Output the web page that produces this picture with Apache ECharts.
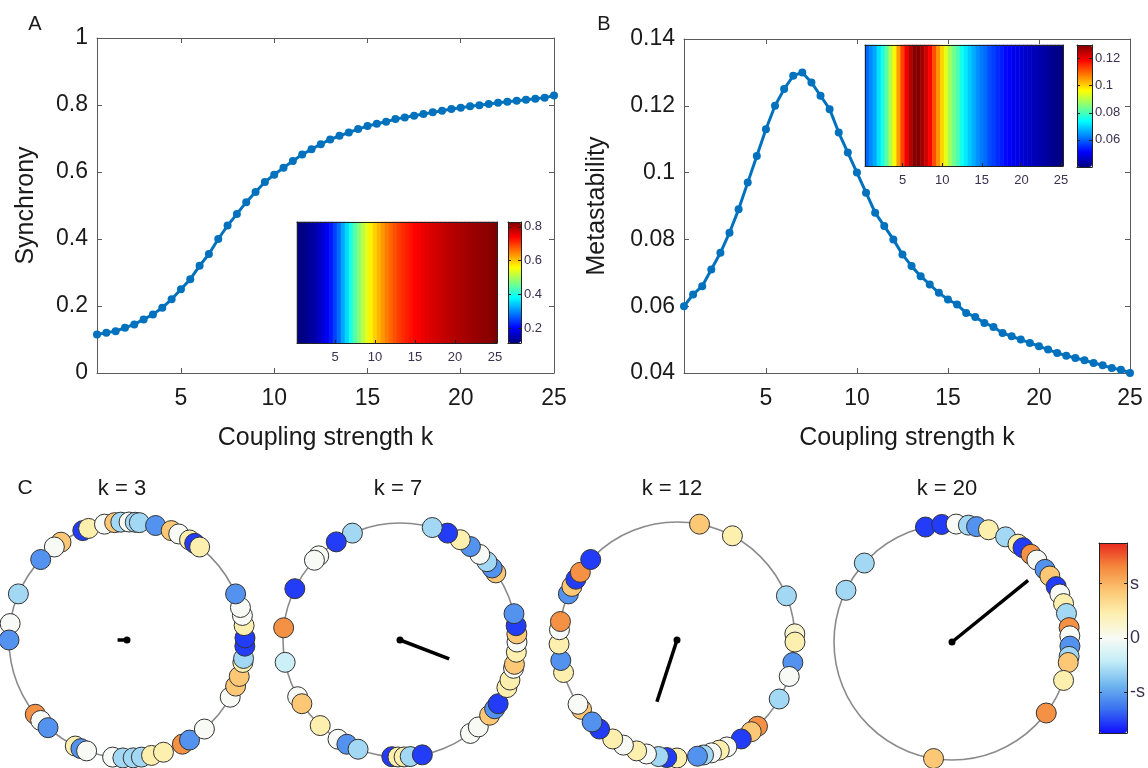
<!DOCTYPE html>
<html><head><meta charset="utf-8">
<script src="https://cdn.jsdelivr.net/npm/echarts@6/dist/echarts.min.js"></script>
<style>html,body{margin:0;padding:0;background:#fff}#c{width:1148px;height:768px}</style>
</head><body><div id="c"></div>
<script>
// ---------------- data ----------------
const kValues = [0.5,1,1.5,2,2.5,3,3.5,4,4.5,5,5.5,6,6.5,7,7.5,8,8.5,9,9.5,10,
  10.5,11,11.5,12,12.5,13,13.5,14,14.5,15,15.5,16,16.5,17,17.5,18,18.5,19,19.5,20,
  20.5,21,21.5,22,22.5,23,23.5,24,24.5,25];
const synchrony = [0.115,0.12,0.125,0.135,0.145,0.16,0.175,0.195,0.22,0.25,
  0.28,0.32,0.355,0.40,0.44,0.475,0.51,0.54,0.57,0.592,
  0.613,0.633,0.652,0.668,0.683,0.697,0.708,0.718,0.728,0.737,
  0.744,0.75,0.758,0.763,0.768,0.773,0.778,0.783,0.788,0.792,
  0.796,0.799,0.803,0.807,0.81,0.813,0.816,0.819,0.822,0.828];
const metastability = [0.060,0.0635,0.066,0.071,0.076,0.082,0.089,0.097,0.105,0.113,
  0.120,0.125,0.129,0.130,0.127,0.123,0.119,0.112,0.106,0.100,
  0.094,0.088,0.084,0.080,0.0755,0.072,0.069,0.0665,0.064,0.062,
  0.0605,0.058,0.0568,0.055,0.0538,0.052,0.051,0.050,0.049,0.048,
  0.047,0.046,0.0452,0.0445,0.0438,0.043,0.0423,0.0415,0.041,0.040];
const mainXTicks = [5,10,15,20,25];
const insetXTicks = [5,10,15,20,25];
const syncBarTicks = [0.2,0.4,0.6,0.8];
const metaBarTicks = [0.06,0.08,0.1,0.12];
const phaseBarTicks = [-1,0,1];
const phaseBarLabels = ['-s','0','s'];
const snapshotK = [3,7,12,20];
// node phase colour levels
const B=-1.55, M=-1.1, L=-0.6, W=0, Y=0.45, O=0.85, R=1.25;
const k3Angles = [112,109,101,96,93,89,86,84,76,68,64,58,55,52,124,128,137,157,172,180,219,223,228,244,247,250,263,268,273,277,282,288,298,302,311,331,337,342,349,351,357,1,7,12,16,23];
const k3Values = [B,Y,W,O,L,W,L,L,M,O,W,Y,B,Y,O,W,M,L,W,M,R,W,M,Y,M,W,W,L,L,L,Y,Y,R,M,W,W,O,O,Y,L,B,B,Y,W,W,M];
const k7Angles = [114,123,134,137,154,174,191,209,213,227,238,243,249,266,269,272,275,281,307,312,320,324,327,336,340,346,348,354,359,3,7,13,35,38,42,47,53,59,66,74];
const k7Values = [L,B,W,W,B,R,-0.35,W,O,Y,W,M,L,B,Y,Y,L,B,W,W,O,M,B,Y,Y,W,O,Y,W,O,B,M,O,M,L,W,M,Y,B,L];
const k12Angles = [79,62,22,3,359,349,342,330,313,309,303,295,291,287,283,280,270,265,261,255,250,243,237,216,213,229,224,196,190,182,175,171,157,153,149,145,137];
const k12Values = [O,Y,L,0.25,Y,M,W,L,R,O,B,W,Y,W,L,M,Y,B,L,W,Y,W,Y,O,W,B,M,Y,M,Y,W,R,M,O,B,R,B];
const k20Angles = [103,95,88,82,78,72,63,56,53,48,44,38,34,28,24,19,14,7,3,358,353,350,341,323,261,138,154];
const k20Values = [B,B,W,L,M,Y,L,Y,B,R,W,M,O,B,W,Y,L,R,W,M,L,O,Y,R,O,L,L];
const orderR = [0.08,0.45,0.55,0.83];
const orderAngle = [180,339,252,39];

// ---------------- styles ----------------
const FONT = '"Liberation Sans", Arial, Helvetica, sans-serif';
const AX = '#5a5a5a';
const TXT = '#1a1a1a';
const BLUE = '#0072BD';
const jet = ['#000080','#0000ff','#0080ff','#00ffff','#80ff80','#ffff00','#ff8000','#ff0000','#800000'];
const phaseColors = ['#1010ff','#3a70f0','#6db5ee','#c2ecf7','#f8fbf5','#fdf0b0','#fcc672','#f4883c','#e8281e'];

const kLabels = kValues.map(String);
const insetTickFn = (i, v) => insetXTicks.includes(Number(v));
const minS = Math.min(...synchrony), maxS = Math.max(...synchrony);
const minM = Math.min(...metastability), maxM = Math.max(...metastability);

function mainX(grid, pos, withLabels) {
  return {gridIndex:grid, type:'value', min:0.5, max:25, position:pos,
    axisLine:{show:true,onZero:false,lineStyle:{color:AX,width:1}},
    axisTick:{show:true,inside:true,length:5,customValues:mainXTicks,lineStyle:{color:AX}},
    axisLabel:{show:withLabels,customValues:mainXTicks,fontSize:23,color:TXT,margin:14,fontFamily:FONT},
    splitLine:{show:false},
    name: withLabels ? 'Coupling strength k' : '', nameLocation:'middle', nameGap:53,
    nameTextStyle:{fontSize:25,color:TXT,fontFamily:FONT}};
}
function mainY(grid, pos, min, max, interval, name, gap, withLabels) {
  return {gridIndex:grid, type:'value', min:min, max:max, interval:interval, position:pos,
    axisLine:{show:true,onZero:false,lineStyle:{color:AX,width:1}},
    axisTick:{show:true,inside:true,length:5,lineStyle:{color:AX}},
    axisLabel:{show:withLabels,fontSize:23,color:TXT,margin:9,fontFamily:FONT},
    splitLine:{show:false},
    name: withLabels ? name : '', nameLocation:'middle', nameGap:gap,
    nameTextStyle:{fontSize:25,color:TXT,fontFamily:FONT}};
}
function insetX(grid, pos, withLabels) {
  return {gridIndex:grid, type:'category', data:kLabels, position:pos, z:6,
    axisLine:{show:true,lineStyle:{color:'#222',width:1}},
    axisTick:{show:withLabels,inside:true,length:3,interval:insetTickFn,alignWithLabel:true,lineStyle:{color:'#222'}},
    axisLabel:{show:withLabels,interval:insetTickFn,fontSize:13,color:'#3a3050',margin:8,fontFamily:FONT},
    splitLine:{show:false}};
}
function insetY(grid, pos) {
  return {gridIndex:grid, type:'category', data:[''], position:pos, z:6,
    axisLine:{show:true,lineStyle:{color:'#222',width:1}},
    axisTick:{show:false}, axisLabel:{show:false}, splitLine:{show:false}};
}
function barX(grid, pos) {
  return {gridIndex:grid, type:'value', min:0, max:1, position:pos, z:6,
    axisLine:{show:true,onZero:false,lineStyle:{color:'#222',width:1}},
    axisTick:{show:false}, axisLabel:{show:false}, splitLine:{show:false}};
}
function barY(grid, pos, min, max, ticks, fmt, fs) {
  return {gridIndex:grid, type:'value', min:min, max:max, position:pos, z:6,
    axisLine:{show:true,onZero:false,lineStyle:{color:'#222',width:1}},
    axisTick:{show:true,inside:true,length:3,customValues:ticks,lineStyle:{color:'#222'}},
    axisLabel:{show:pos==='right',customValues:ticks,fontSize:fs,color:'#3a3050',margin:3,fontFamily:FONT,formatter:fmt},
    splitLine:{show:false}};
}

const snapAngles = [k3Angles,k7Angles,k12Angles,k20Angles];
const snapValues = [k3Values,k7Values,k12Values,k20Values];
const polarCenters = [[127,640],[400,640],[677,640],[952,642]];
const polarRadius = [118,117,118,118];

const series = [
  {type:'line', xAxisIndex:0, yAxisIndex:0, data:kValues.map((k,i)=>[k,synchrony[i]]),
   symbol:'circle', symbolSize:8, itemStyle:{color:BLUE}, lineStyle:{color:BLUE,width:3}, z:3},
  {type:'line', xAxisIndex:2, yAxisIndex:2, data:kValues.map((k,i)=>[k,metastability[i]]),
   symbol:'circle', symbolSize:8, itemStyle:{color:BLUE}, lineStyle:{color:BLUE,width:3}, z:3},
  {type:'heatmap', xAxisIndex:4, yAxisIndex:4, data:synchrony.map((v,i)=>[i,0,v]), z:4},
  {type:'heatmap', xAxisIndex:8, yAxisIndex:8, data:metastability.map((v,i)=>[i,0,v]), z:4}
];
for (let p=0;p<4;p++) {
  series.push({type:'scatter', coordinateSystem:'polar', polarIndex:p,
    data:snapAngles[p].map((a,i)=>[1,a,snapValues[p][i]]),
    symbol:'circle', symbolSize:20, itemStyle:{borderColor:'#333',borderWidth:1,opacity:1}, z:4});
}
for (let p=0;p<4;p++) {
  series.push({type:'line', coordinateSystem:'polar', polarIndex:p,
    data:[{value:[0,orderAngle[p]],symbolSize:7},{value:[orderR[p],orderAngle[p]],symbolSize:0}],
    symbol:'circle', itemStyle:{color:'#000'}, lineStyle:{color:'#000',width:3.5}, z:5});
}

const graphicTexts = [
  {t:'A', x:35, y:24, fs:20}, {t:'B', x:604, y:24, fs:20}, {t:'C', x:25, y:488, fs:21}
];
snapshotK.forEach((k,i)=>graphicTexts.push({t:'k = '+k, x:[122,398,672,947][i], y:489, fs:22}));

const option = {
  animation:false,
  backgroundColor:'#ffffff',
  grid:[
    {left:97, top:38, width:457, height:335},
    {left:684, top:39, width:446, height:334},
    {left:297, top:222, width:200, height:121},
    {left:508, top:222, width:13, height:121},
    {left:865, top:45, width:198, height:121},
    {left:1077, top:45, width:15, height:122},
    {left:1099, top:543, width:28, height:190}
  ],
  xAxis:[
    mainX(0,'bottom',true), mainX(0,'top',false),
    mainX(1,'bottom',true), mainX(1,'top',false),
    insetX(2,'bottom',true), insetX(2,'top',false),
    barX(3,'bottom'), barX(3,'top'),
    insetX(4,'bottom',true), insetX(4,'top',false),
    barX(5,'bottom'), barX(5,'top'),
    barX(6,'bottom'), barX(6,'top')
  ],
  yAxis:[
    mainY(0,'left',0,1,0.2,'Synchrony',58,true), mainY(0,'right',0,1,0.2,'',0,false),
    mainY(1,'left',0.04,0.14,0.02,'Metastability',74,true), mainY(1,'right',0.04,0.14,0.02,'',0,false),
    insetY(2,'left'), insetY(2,'right'),
    barY(3,'left',minS,maxS,syncBarTicks,null,13), barY(3,'right',minS,maxS,syncBarTicks,null,13),
    insetY(4,'left'), insetY(4,'right'),
    barY(5,'left',minM,maxM,metaBarTicks,null,13), barY(5,'right',minM,maxM,metaBarTicks,null,13),
    barY(6,'left',-1.75,1.75,phaseBarTicks,null,18),
    barY(6,'right',-1.75,1.75,phaseBarTicks,v=>phaseBarLabels[phaseBarTicks.indexOf(v)],18)
  ],
  polar: polarCenters.map((c,i)=>({center:c, radius:polarRadius[i]})),
  angleAxis: polarCenters.map((c,i)=>({polarIndex:i, type:'value', min:0, max:360, startAngle:0, clockwise:false,
    axisLine:{show:true,lineStyle:{color:'#8a8a8a',width:1.6}}, axisTick:{show:false}, axisLabel:{show:false}, splitLine:{show:false}})),
  radiusAxis: polarCenters.map((c,i)=>({polarIndex:i, type:'value', min:0, max:1,
    axisLine:{show:false}, axisTick:{show:false}, axisLabel:{show:false}, splitLine:{show:false}})),
  visualMap:[
    {type:'continuous', seriesIndex:2, dimension:2, min:minS, max:maxS, inRange:{color:jet},
     left:508, top:222, itemWidth:13, itemHeight:121, padding:0, calculable:false, hoverLink:false, text:null, z:5},
    {type:'continuous', seriesIndex:3, dimension:2, min:minM, max:maxM, inRange:{color:jet},
     left:1077, top:45, itemWidth:15, itemHeight:122, padding:0, calculable:false, hoverLink:false, text:null, z:5},
    {type:'continuous', seriesIndex:[4,5,6,7], dimension:2, min:-1.75, max:1.75, inRange:{color:phaseColors},
     left:1099, top:543, itemWidth:28, itemHeight:190, padding:0, calculable:false, hoverLink:false, text:null, z:5}
  ],
  graphic: graphicTexts.map(g=>({type:'text', x:g.x, y:g.y, z:10,
    style:{text:g.t, fontSize:g.fs, fontFamily:FONT, fill:TXT, align:'center', verticalAlign:'middle', textAlign:'center', textVerticalAlign:'middle'}})),
  series: series
};
const chart = echarts.init(document.getElementById('c'), null, {renderer:'canvas'});
chart.setOption(option);
</script></body></html>
